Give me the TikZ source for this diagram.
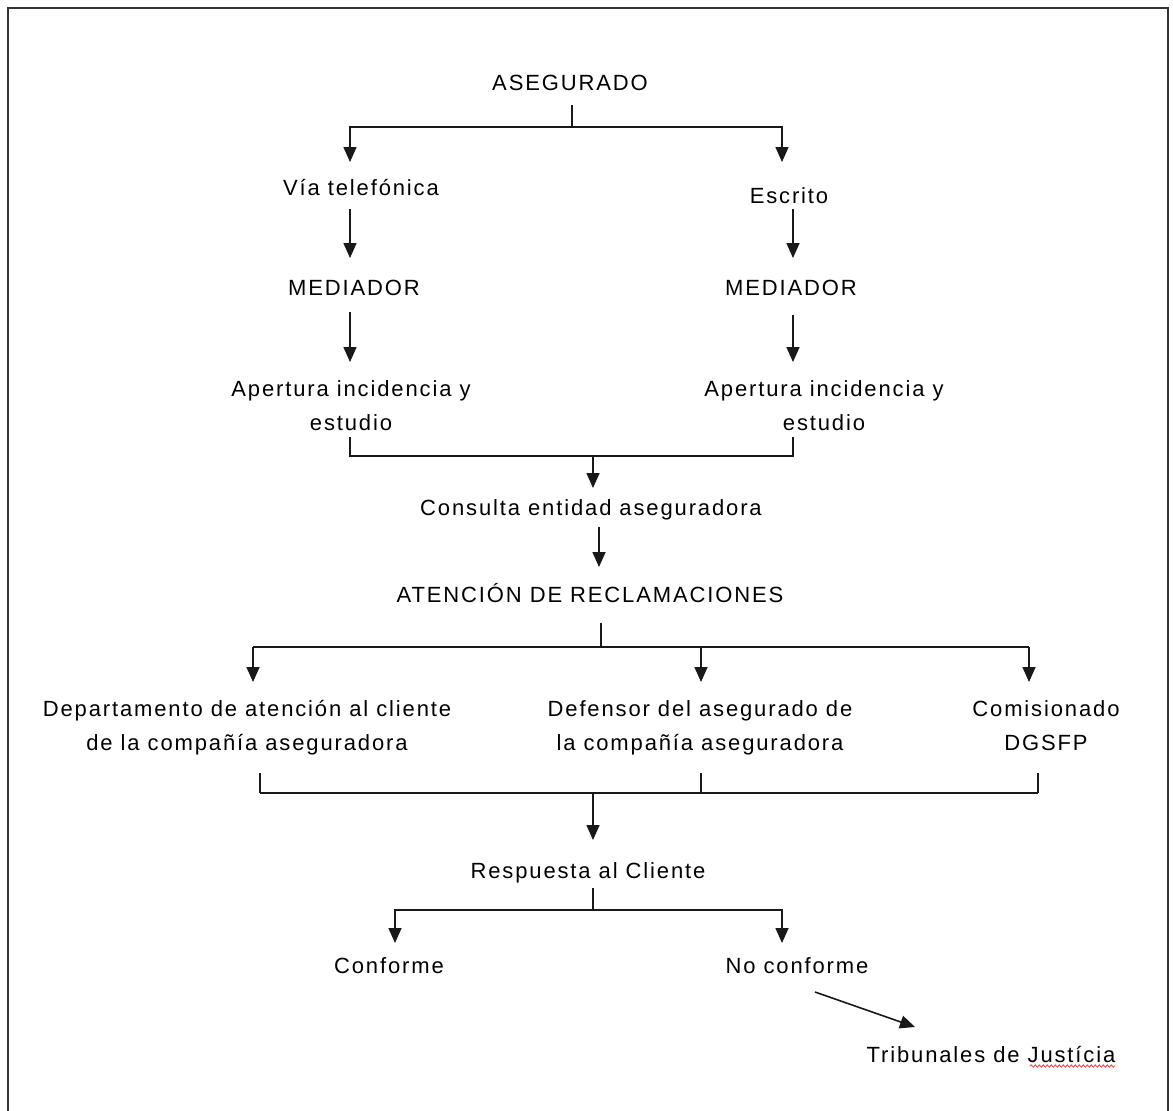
\documentclass[tikz,border=0pt]{standalone}
\usepackage{fontspec}
\newfontfamily\diagfont{Liberation Sans}[LetterSpace=8.5]
\usetikzlibrary{arrows.meta}
\usetikzlibrary{calc}
\usetikzlibrary{decorations.pathmorphing}

\begin{document}
\begin{tikzpicture}[x=1pt, y=-1pt,
    txt/.style={font=\diagfont\fontsize{22}{34}\selectfont, inner sep=0pt, align=center, anchor=base},
    ln/.style={line width=1.6pt, black!90},
    arr/.style={ln, -{Triangle[length=15pt, width=13pt]}}]
    \useasboundingbox (0,0) rectangle (1173,1111);

    % Frame
    \draw[line width=2pt, black!80] (8,1125) -- (8,8) -- (1168,8) -- (1168,1125);

    % Entry
    \node[txt] (aseg) at (570,90) {ASEGURADO};
    \node[txt] (via) at (361,195) {Vía telefónica};
    \node[txt] (escr) at (789,203) {Escrito};
    \node[txt] (med1) at (354,295) {MEDIADOR};
    \node[txt] (med2) at (791,295) {MEDIADOR};
    \node[txt] (aper1) at (351,430) {Apertura incidencia y\\estudio};
    \node[txt] (aper2) at (824,430) {Apertura incidencia y\\estudio};

    % Insurer
    \node[txt] (cons) at (591,515) {Consulta entidad aseguradora};
    \node[txt] (aten) at (590,602) {ATENCIÓN DE RECLAMACIONES};
    \node[txt] (dept) at (247,750) {Departamento de atención al cliente\\de la compañía aseguradora};
    \node[txt] (defe) at (700,750) {Defensor del asegurado de\\la compañía aseguradora};
    \node[txt] (comi) at (1046,750) {Comisionado\\DGSFP};

    % Answer
    \node[txt] (resp) at (588,878) {Respuesta al Cliente};
    \node[txt] (conf) at (389,973) {Conforme};
    \node[txt] (noco) at (797,973) {No conforme};
    \node[txt] (trib) at (991,1062) {Tribunales de Justícia};
    \draw[red!75, line width=0.8pt, decorate, decoration={snake, amplitude=1.2pt, segment length=4pt}]
        ($(trib.base)+(39,4)$) -- ($(trib.base)+(124,4)$);

    % Fork below ASEGURADO
    \coordinate (f1) at (572,127);
    \draw[ln] ($(aseg.base)+(2,15)$) -- (f1);
    \draw[arr] (f1) -| ($(via.base)+(-11,-33)$);
    \draw[arr] (f1) -| ($(escr.base)+(-7,-41)$);

    % Both channels
    \draw[arr] ($(via.base)+(-11,14)$) -- ($(med1.base)+(-4,-37)$);
    \draw[arr] ($(escr.base)+(4,6)$) -- ($(med2.base)+(2,-37)$);
    \draw[arr] ($(med1.base)+(-4,17)$) -- ($(aper1.base)+(-1,-68)$);
    \draw[arr] ($(med2.base)+(2,20)$) -- ($(aper2.base)+(-31,-68)$);

    % Join into the insurer
    \coordinate (j1) at (593,456);
    \draw[ln] ($(aper1.base)+(-1,7)$) |- (j1) -| ($(aper2.base)+(-31,7)$);
    \draw[arr] (j1) -- ($(cons.base)+(2,-27)$);
    \draw[arr] ($(cons.base)+(8,12)$) -- ($(aten.base)+(9,-35)$);

    % Fork below ATENCION
    \coordinate (f2) at (601,647);
    \draw[ln] ($(aten.base)+(11,21)$) -- (f2);
    \coordinate (t1) at ($(dept.base)+(6,-68)$);
    \coordinate (t2) at ($(defe.base)+(1,-68)$);
    \coordinate (t3) at ($(comi.base)+(-17,-68)$);
    \draw[ln] (t1 |- f2) -- (t3 |- f2);
    \foreach \t in {t1, t2, t3} {
        \draw[arr] (\t |- f2) -- (\t);
    }

    % Join into the answer
    \coordinate (j2) at (593,793);
    \coordinate (b1) at ($(dept.base)+(13,23)$);
    \coordinate (b2) at ($(defe.base)+(1,23)$);
    \coordinate (b3) at ($(comi.base)+(-8,23)$);
    \draw[ln] (b1 |- j2) -- (b3 |- j2);
    \foreach \b in {b1, b2, b3} {
        \draw[ln] (\b) -- (\b |- j2);
    }
    \draw[arr] (j2) -- ($(resp.base)+(5,-38)$);

    % Fork below Respuesta
    \coordinate (f3) at (593,910);
    \draw[ln] ($(resp.base)+(5,10)$) -- (f3);
    \draw[arr] (f3) -| ($(conf.base)+(6,-30)$);
    \draw[arr] (f3) -| ($(noco.base)+(-15,-30)$);
    \draw[arr] ($(noco.base)+(18,19)$) -- ($(trib.base)+(-76,-35)$);
\end{tikzpicture}
\end{document}
